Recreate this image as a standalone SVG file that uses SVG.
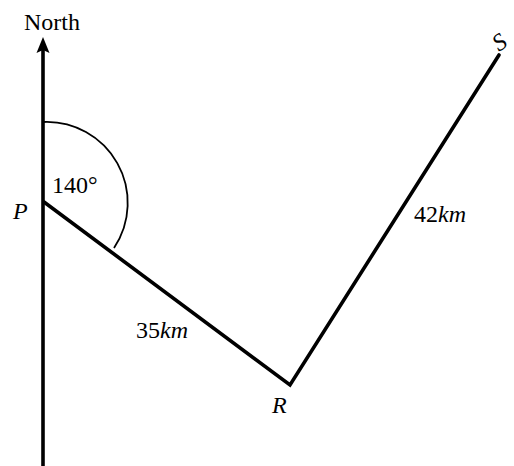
<svg xmlns="http://www.w3.org/2000/svg" width="514" height="466" viewBox="0 0 514 466">
<style>
.t{font-family:"Liberation Serif","Times New Roman",serif;fill:#000;font-size:24px}
.i{font-style:italic}
.ln{stroke:#000;stroke-width:3.6;fill:none;stroke-linecap:round;stroke-linejoin:miter}
</style>
<rect width="514" height="466" fill="#fff"/>
<g id="north">
<line x1="43" y1="466" x2="43" y2="48" stroke="#000" stroke-width="3.6"/>
<path d="M43,37 L36.5,53 L43,50 L49.5,53 Z" fill="#000"/>
<text class="t" x="24" y="30" font-size="25">North</text>
</g>
<g id="connectors">
<polyline class="ln" points="44,202 290,385 499,55"/>
<path d="M43,122 A81,81 0 0 1 114,248" fill="none" stroke="#000" stroke-width="1.8"/>
</g>
<g id="P"><text class="t i" x="13" y="219">P</text></g>
<g id="R"><text class="t i" x="272" y="413">R</text></g>
<g id="angle"><text class="t" x="52" y="193">140°</text></g>
<g id="d35"><text class="t" x="136" y="338">35<tspan class="i">km</tspan></text></g>
<g id="d42"><text class="t" x="414" y="222">42<tspan class="i">km</tspan></text></g>
<g id="S"><text class="t i" x="499" y="52" font-size="20" transform="rotate(-35 499 52)">S</text></g>
</svg>
